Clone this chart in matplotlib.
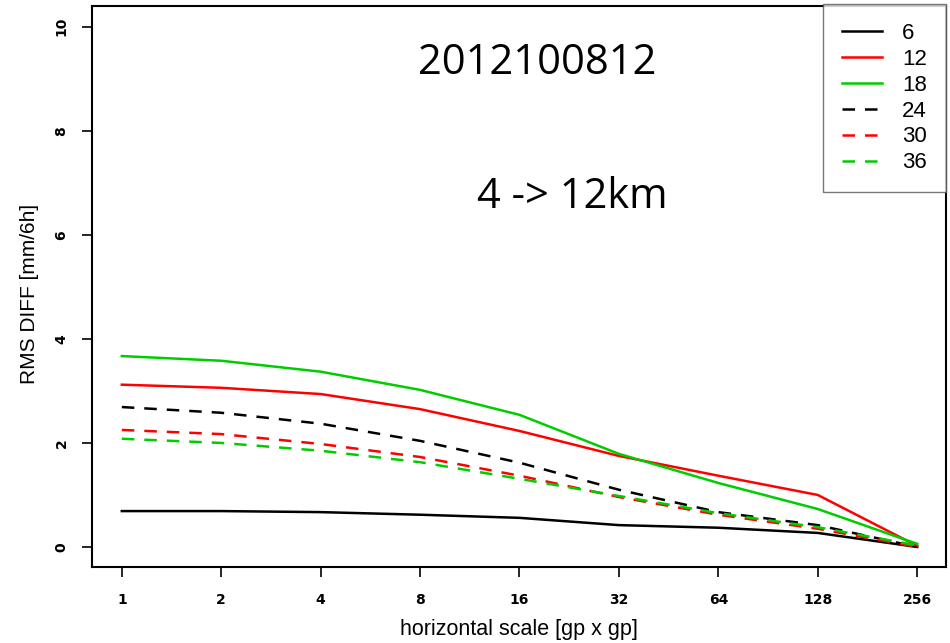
import matplotlib
matplotlib.use("Agg")
import matplotlib.pyplot as plt
from matplotlib.ticker import FixedLocator, FixedFormatter, NullLocator

scales = [1, 2, 4, 8, 16, 32, 64, 128, 256]
scale_labels = ["1", "2", "4", "8", "16", "32", "64", "128", "256"]

rms_6 = [0.69, 0.69, 0.67, 0.62, 0.56, 0.42, 0.37, 0.27, 0.0]
rms_12 = [3.12, 3.06, 2.94, 2.65, 2.23, 1.75, 1.37, 1.00, 0.02]
rms_18 = [3.67, 3.58, 3.37, 3.02, 2.54, 1.79, 1.23, 0.73, 0.06]
rms_24 = [2.69, 2.58, 2.37, 2.04, 1.62, 1.10, 0.67, 0.42, 0.0]
rms_30 = [2.25, 2.17, 1.98, 1.73, 1.37, 0.96, 0.62, 0.35, 0.0]
rms_36 = [2.08, 2.00, 1.85, 1.63, 1.31, 0.98, 0.65, 0.38, 0.03]

y_ticks = [0, 2, 4, 6, 8, 10]

GREEN = "#00cd00"

fig = plt.figure(figsize=(9.5, 6.43), dpi=100)
ax = fig.add_axes([92 / 950, 76 / 643, 854 / 950, 561 / 643])

series = [
    (rms_6, "6", "black", "-"),
    (rms_12, "12", "red", "-"),
    (rms_18, "18", GREEN, "-"),
    (rms_24, "24", "black", "--"),
    (rms_30, "30", "red", "--"),
    (rms_36, "36", GREEN, "--"),
]
for vals, lab, col, ls in series:
    line, = ax.plot(scales, vals, color=col, linestyle=ls, linewidth=1.8, label=lab)
    if ls == "--":
        line.set_dashes((5, 4))

ax.set_xscale("log", base=2)
ax.set_xlim(2 ** -0.30, 2 ** 8.29)
ax.set_ylim(-0.385, 10.40)
ax.xaxis.set_major_locator(FixedLocator(scales))
ax.xaxis.set_major_formatter(FixedFormatter(scale_labels))
ax.xaxis.set_minor_locator(NullLocator())
ax.set_yticks(y_ticks)
ax.set_yticklabels([str(v) for v in y_ticks], rotation=90, va="center")

ax.tick_params(axis="both", direction="out", length=7, width=1.2, labelsize=10)
ax.tick_params(axis="x", pad=12)
ax.tick_params(axis="y", pad=10)
for lbl in ax.get_xticklabels() + ax.get_yticklabels():
    lbl.set_fontweight("bold")
    lbl.set_family("Liberation Sans Narrow")
for sp in ax.spines.values():
    sp.set_linewidth(1.5)

ax.set_xlabel("horizontal scale [gp x gp]", fontsize=15.5, family="Liberation Sans", labelpad=8)
ax.set_ylabel("RMS DIFF [mm/6h]", fontsize=15, family="Liberation Sans")
ax.yaxis.set_label_coords(-53 / 854, (643 - 294 - 76) / 561)

ax.text(537 / 950, 1 - 63 / 643, "2012100812", transform=fig.transFigure,
        fontsize=30, family="Open Sans", ha="center", va="center")
ax.text(572 / 950, 1 - 197 / 643, "4 -> 12km", transform=fig.transFigure,
        fontsize=30, family="Open Sans", ha="center", va="center")

leg = ax.legend(loc="upper right", bbox_to_anchor=(946 / 950, 1 - 4 / 643),
                bbox_transform=fig.transFigure, fancybox=False, frameon=True,
                edgecolor="#555555", handlelength=1.8,
                labelspacing=0.22, borderpad=0.85, handletextpad=0.9,
                borderaxespad=0.0,
                prop={"family": "Liberation Sans", "size": 16})
leg.get_frame().set_linewidth(1.0)

fig.savefig("out.png", dpi=100)
